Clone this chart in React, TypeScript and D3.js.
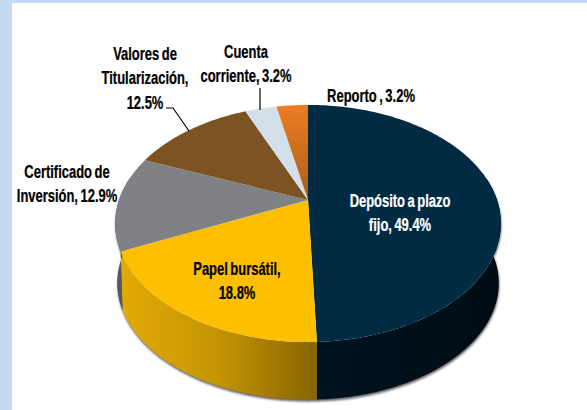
import React from "react";
import * as d3 from "d3";

const categories = ["Depósito a plazo fijo", "Papel bursátil", "Certificado de Inversión", "Valores de Titularización", "Cuenta corriente", "Reporto"];
const values = [49.4, 18.8, 12.9, 12.5, 3.2, 3.2];
const topColors = ["#012a43", "#fdbf00", "#808184", "#7c5423", "#d3dfe9", "url(#orangeTop)"];
const sideColors = ["url(#navySide)", "url(#yellowSide)", "#55585c", "#5a3c18", "#a0aab2", "#a85510"];
const labelLines = [
  ["Depósito a plazo", "fijo, 49.4%"],
  ["Papel bursátil,", "18.8%"],
  ["Certificado de", "Inversión, 12.9%"],
  ["Valores de", "Titularización,", "12.5%"],
  ["Cuenta", "corriente, 3.2%"],
  ["Reporto , 3.2%"],
];
const labelCentres = [[400, 200], [237, 268], [67, 171], [145, 53], [246, 51], [371, 95]];
const labelColors = ["#ffffff", "#000000", "#000000", "#000000", "#000000", "#000000"];

const W = 587, H = 410;
const CX = 308, CY = 200, K = 0.198;

function project(theta: number, a: number, b: number, cy: number): [number, number] {
  const x = Math.sin(theta), y = -Math.cos(theta), w = 1 - K * y;
  return [CX + (a * x) / w, cy + (b * y) / w];
}
const topPt = (t: number) => project(t, 189, 113.9, CY);
const botPt = (t: number) => project(t, 187, 112, 260);

const sample = (a: number, b: number) => {
  const n = Math.max(2, Math.ceil(Math.abs(b - a) / 0.02));
  return d3.range(n + 1).map((i) => a + ((b - a) * i) / n);
};
const line = d3.line<[number, number]>().x((d) => d[0]).y((d) => d[1]);

export default function App() {
  const arcs = d3.pie<number>().sort(null)(values);
  const sideMin = Math.PI / 2 - 0.2, sideMax = (3 * Math.PI) / 2 + 0.2;
  return (
    <svg width={W} height={H} viewBox={`0 0 ${W} ${H}`} style={{ position: "fixed", left: 0, top: 0, background: "#fff" }}>
      <defs>
        <linearGradient id="orangeTop" x1="0" y1="0" x2="0" y2="1">
          <stop offset="0" stopColor="#ee7d24" />
          <stop offset="1" stopColor="#a85f18" />
        </linearGradient>
        <linearGradient id="yellowSide" gradientUnits="userSpaceOnUse" x1="120" y1="0" x2="317" y2="0">
          <stop offset="0" stopColor="#e2ab05" />
          <stop offset="0.5" stopColor="#c49404" />
          <stop offset="1" stopColor="#866500" />
        </linearGradient>
        <linearGradient id="navySide" gradientUnits="userSpaceOnUse" x1="317" y1="0" x2="500" y2="0">
          <stop offset="0" stopColor="#001420" />
          <stop offset="1" stopColor="#000c13" />
        </linearGradient>
        <filter id="soft" x="-10%" y="-10%" width="120%" height="120%">
          <feGaussianBlur stdDeviation="1.3" />
        </filter>
      </defs>
      <rect x={0} y={0} width={W} height={3} fill="#c5d9f1" />
      <rect x={0} y={0} width={12} height={H} fill="#c5d9f1" />
      <path
        d={line([...sample(sideMin, sideMax).map(botPt), ...sample(sideMax, sideMin).map(topPt)])! + "Z"}
        transform="translate(0.5,2)"
        fill="#666"
        filter="url(#soft)"
      />
      {arcs.map((d, i) => {
        const a = Math.max(d.startAngle, sideMin), b = Math.min(d.endAngle, sideMax);
        if (b <= a) return null;
        return (
          <path key={"s" + i} fill={sideColors[i]}
            d={line([...sample(a, b).map(topPt), ...sample(b, a).map(botPt)])! + "Z"} />
        );
      })}
      {arcs.map((d, i) => (
        <path key={"t" + i} fill={topColors[i]}
          d={line([[CX, CY], ...sample(d.startAngle, d.endAngle).map(topPt)])! + "Z"} />
      ))}
      <path d="M166,108H173L189,131" fill="none" stroke="#000" strokeWidth={1.2} />
      <path d="M260,88V110" fill="none" stroke="#000" strokeWidth={1.2} />
      {labelLines.map((lines, i) =>
        lines.map((t, j) => (
          <text key={categories[i] + j}
            transform={`translate(${labelCentres[i][0]},${labelCentres[i][1] + j * 24.5 + 6.5}) scale(0.72,1)`}
            textAnchor="middle" fill={labelColors[i]} stroke={labelColors[i]} strokeWidth={0.25}
            style={{ fontFamily: "'Liberation Sans',sans-serif", fontWeight: 700, fontSize: 18, wordSpacing: "-1.5px" }}>
            {t}
          </text>
        ))
      )}
    </svg>
  );
}
